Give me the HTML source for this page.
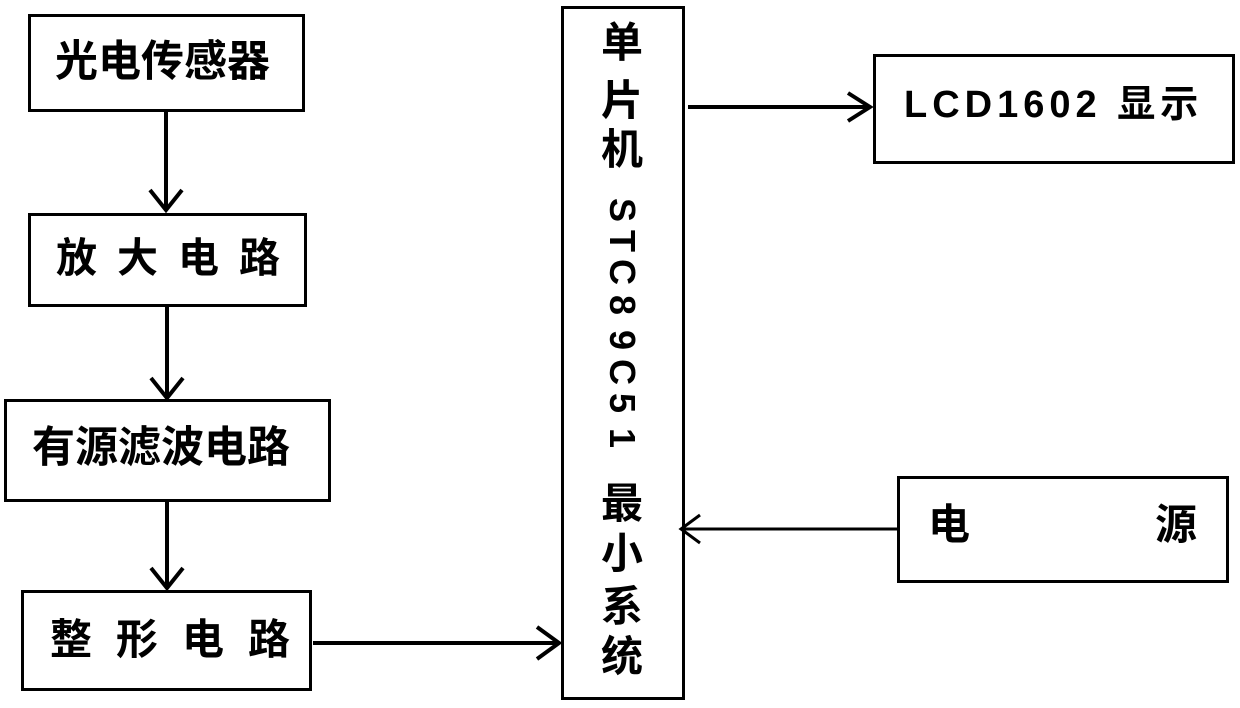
<!DOCTYPE html>
<html><head><meta charset="utf-8"><style>
body{margin:0;width:1240px;height:708px;background:#fff;position:relative;overflow:hidden;font-family:"Liberation Sans","Noto Sans CJK SC",sans-serif;font-weight:bold;color:#000}
.b{position:absolute;border:3px solid #000;box-sizing:border-box}
.t{position:absolute;font-size:38px;line-height:1;white-space:nowrap}
.c{position:absolute;font-size:42px;line-height:1;width:46px;text-align:center;left:599px;}
.r{transform:rotate(90deg);font-size:36px}
</style></head><body>
<div class="b" style="left:28px;top:14px;width:277px;height:98px"></div>
<div class="b" style="left:28px;top:213px;width:279px;height:94px"></div>
<div class="b" style="left:4px;top:399px;width:327px;height:103px"></div>
<div class="b" style="left:21px;top:590px;width:291px;height:101px"></div>
<div class="b" style="left:561px;top:6px;width:124px;height:694px"></div>
<div class="b" style="left:873px;top:54px;width:362px;height:110px"></div>
<div class="b" style="left:897px;top:476px;width:332px;height:107px"></div>

<div class="t" style="left:55px;top:41px;font-size:43px">光电传感器</div>
<div class="t" style="left:56px;top:238px;font-size:41px;letter-spacing:20px">放大电路</div>
<div class="t" style="left:32px;top:427px;font-size:43px">有源滤波电路</div>
<div class="t" style="left:50px;top:619px;font-size:42px;letter-spacing:24px">整形电路</div>
<div class="t" style="left:904px;top:86px;font-size:38px;letter-spacing:5px">LCD1602 显示</div>
<div class="t" style="left:928px;top:504px;font-size:42px">电</div>
<div class="t" style="left:1155px;top:504px;font-size:42px">源</div>

<div class="c" style="top:22px">单</div>
<div class="c" style="top:80px">片</div>
<div class="c" style="top:129px">机</div>
<div class="c r" style="top:192px">S</div>
<div class="c r" style="top:223px">T</div>
<div class="c r" style="top:254px">C</div>
<div class="c r" style="top:287px">8</div>
<div class="c r" style="top:322px">9</div>
<div class="c r" style="top:354px">C</div>
<div class="c r" style="top:385px">5</div>
<div class="c r" style="top:420px">1</div>
<div class="c" style="top:483px">最</div>
<div class="c" style="top:533px">小</div>
<div class="c" style="top:586px">系</div>
<div class="c" style="top:636px">统</div>

<svg width="1240" height="708" style="position:absolute;left:0;top:0" fill="none" stroke="#000" stroke-width="4">
<path d="M166 112V210M150 190L166 210L182 190"/>
<path d="M167 307V398M151 378L167 398L183 378"/>
<path d="M167 502V588M151 568L167 588L183 568"/>
<path d="M313 643H559M537 627L559 643L537 659"/>
<path d="M688 107H870M848 93L870 107L848 121"/>
<path d="M897 529H681M700 515L681 529L700 543" stroke-width="3"/>
</svg>
</body></html>
